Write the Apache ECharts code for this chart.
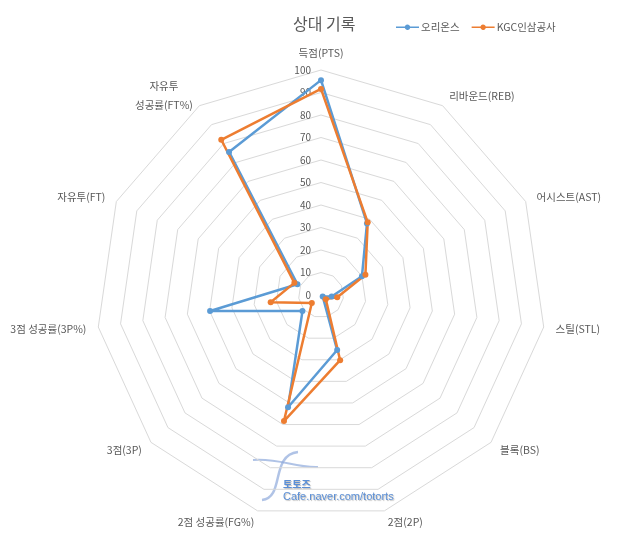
<!DOCTYPE html>
<html><head><meta charset="utf-8">
<script src="https://cdn.jsdelivr.net/npm/echarts@6/dist/echarts.min.js"></script>
<style>html,body{margin:0;padding:0;background:#fff}#c{width:640px;height:553px}</style>
</head><body><div id="c"></div>
<script>
const categories = ['득점(PTS)','리바운드(REB)','어시스트(AST)','스틸(STL)','블록(BS)','2점(2P)','2점 성공률(FG%)','3점(3P)','3점 성공률(3P%)','자유투(FT)','자유투\n성공률(FT%)'];
const seriesNames = ['오리온스','KGC인삼공사'];
const orions = [95.5, 37.8, 20.0, 4.8, 1.0, 25.5, 52.0, 10.9, 49.8, 11.5, 75.6];
const kgc    = [91.6, 38.4, 21.7, 7.3, 2.8, 30.2, 58.4, 5.4, 22.6, 13.0, 82.0];
const tickLabels = ['0','10','20','30','40','50','60','70','80','90','100'];

// ECharts lays radar indicators counter-clockwise; reorder so they run clockwise like the reference
const order = [0,10,9,8,7,6,5,4,3,2,1];
const indicators = order.map(i => ({name: categories[i], min: 0, max: 100}));
const font = '"Noto Sans CJK KR", "Noto Sans", sans-serif';
const lineDotIcon = 'path://M0,3.1H9.2A3,3 0 0 1 14.8,3.1H24V4.9H14.8A3,3 0 0 1 9.2,4.9H0Z';
const chart = echarts.init(document.getElementById('c'));
chart.setOption({
  backgroundColor: '#fff',
  animation: false,
  title: {text: '상대 기록', left: 288, top: 11,
    textStyle: {fontFamily: font, fontSize: 16, fontWeight: 'normal', color: '#595959'}},
  legend: {data: seriesNames.map(n => ({name: n, icon: lineDotIcon})),
    left: 391, top: 17, itemWidth: 23, itemHeight: 8, itemGap: 12,
    textStyle: {fontFamily: font, fontSize: 10.5, color: '#595959', padding: [0,0,0,-3]}},
  grid: {left: 321, top: 70, width: 1, height: 225},
  xAxis: {type: 'value', show: false},
  yAxis: {type: 'value', min: 0, max: 100, interval: 10,
    axisLine: {show: false}, axisTick: {show: false}, splitLine: {show: false},
    axisLabel: {color: '#595959', fontFamily: font, fontSize: 10, margin: 10,
      formatter: v => tickLabels[Math.round(v / 10)]}},
  radar: {
    center: [321, 295], radius: 225, startAngle: 90, shape: 'polygon', splitNumber: 10,
    indicator: indicators, nameGap: 12,
    axisName: {color: '#595959', fontFamily: font, fontSize: 10.5,
      formatter: (name) => name.indexOf('\n') >= 0 ?
        '{a|' + name.split('\n')[0] + '}\n{b|' + name.split('\n')[1] + '}' : name,
      rich: {a: {width: 56, align: 'center', lineHeight: 19, fontSize: 10.5, fontFamily: font, color: '#595959'},
             b: {lineHeight: 19, fontSize: 10.5, fontFamily: font, color: '#595959'}}},
    axisLine: {show: false},
    splitLine: {lineStyle: {color: '#d9d9d9', width: 1}},
    splitArea: {show: false}
  },
  series: [{
    type: 'radar',
    data: [
      {name: seriesNames[0], value: order.map(i => orions[i]),
        lineStyle: {color: '#5B9BD5', width: 2.5}, itemStyle: {color: '#5B9BD5'}},
      {name: seriesNames[1], value: order.map(i => kgc[i]),
        lineStyle: {color: '#ED7D31', width: 2.5}, itemStyle: {color: '#ED7D31'}}
    ],
    symbol: 'circle', symbolSize: 6
  }],
  color: ['#5B9BD5', '#ED7D31'],
  graphic: [
    {type: 'bezierCurve', silent: true, z: 0,
      shape: {x1: 298, y1: 452, x2: 262, y2: 500, cpx1: 270, cpy1: 455, cpx2: 285, cpy2: 498},
      style: {stroke: '#8ea9db', lineWidth: 2.5, opacity: 0.7}},
    {type: 'bezierCurve', silent: true, z: 0,
      shape: {x1: 253, y1: 460, x2: 318, y2: 467, cpx1: 280, cpy1: 458, cpx2: 295, cpy2: 468},
      style: {stroke: '#8ea9db', lineWidth: 2, opacity: 0.7}},
    {type: 'text', left: 283, top: 479, silent: true,
      style: {text: '토토즈', fill: '#5b8fd6', font: 'bold 10px ' + font,
        textShadowColor: '#bbb', textShadowBlur: 1, textShadowOffsetX: 1, textShadowOffsetY: 1}},
    {type: 'text', left: 283, top: 491, silent: true,
      style: {text: 'Cafe.naver.com/totorts', fill: '#5b8fd6', font: '11px "Liberation Sans", sans-serif',
        textShadowColor: '#bbb', textShadowBlur: 1, textShadowOffsetX: 1, textShadowOffsetY: 1}}
  ]
});
</script></body></html>
